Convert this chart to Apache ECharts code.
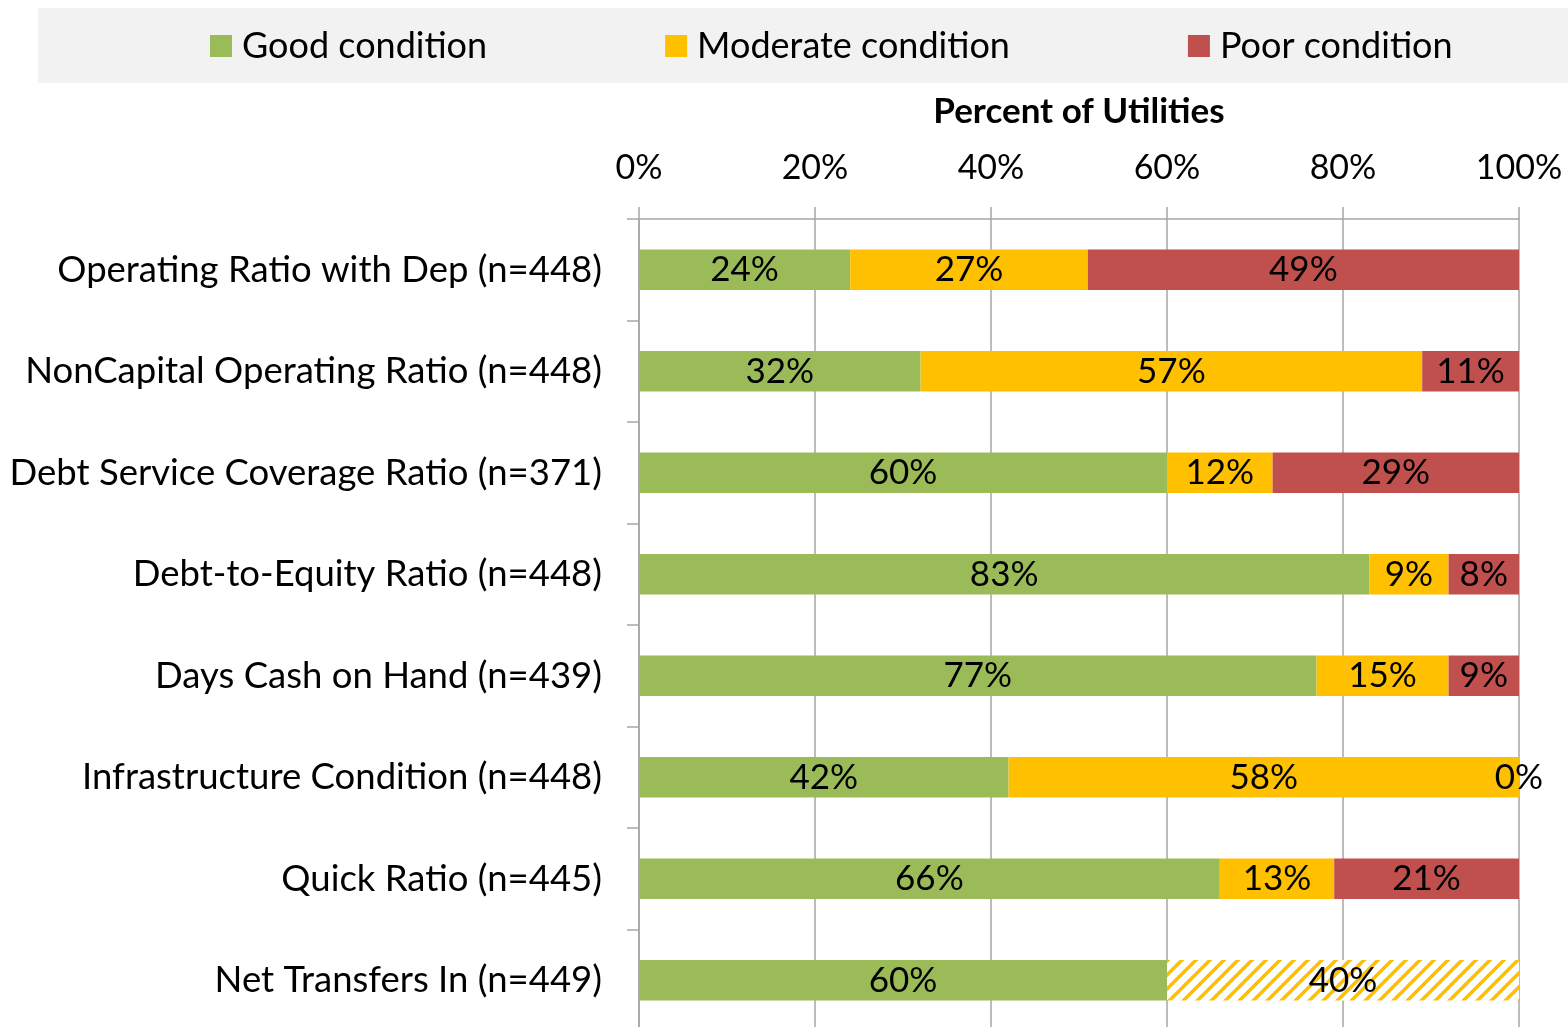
<!DOCTYPE html>
<html>
<head>
<meta charset="utf-8">
<script src="https://cdn.jsdelivr.net/npm/echarts@6/dist/echarts.min.js"></script>
<style>
  html, body { margin: 0; padding: 0; background: #fff; }
  #chart { width: 1568px; height: 1027px; }
</style>
</head>
<body>
<div id="chart"></div>
<script>
// Financial indicator categories (top to bottom)
const categories = [
  'Operating Ratio with Dep (n=448)',
  'NonCapital Operating Ratio (n=448)',
  'Debt Service Coverage Ratio (n=371)',
  'Debt-to-Equity Ratio (n=448)',
  'Days Cash on Hand (n=439)',
  'Infrastructure Condition (n=448)',
  'Quick Ratio (n=445)',
  'Net Transfers In (n=449)'
];
// Percent of utilities in each condition
const goodValues = [24, 32, 60, 83, 77, 42, 66, 60];
const moderateValues = [27, 57, 12, 9, 15, 58, 13, 40];
const poorValues = [49, 11, 29, 8, 9, 0, 21, null];
const axisTicks = [0, 20, 40, 60, 80, 100];

const FONT = 'Lato';
const GREEN = '#9BBB59', YELLOW = '#FFC000', RED = '#C0504D';
const GRID_LINE = '#a6a6a6';

// Diagonal stripe pattern for the Net Transfers In moderate segment
function stripePattern() {
  const p = 14;
  const c = document.createElement('canvas');
  c.width = p; c.height = p;
  const g = c.getContext('2d');
  g.fillStyle = '#fff';
  g.fillRect(0, 0, p, p);
  g.strokeStyle = YELLOW;
  g.lineWidth = 3.6;
  g.beginPath();
  g.moveTo(-2, p + 2); g.lineTo(p + 2, -2);
  g.moveTo(-2, 2); g.lineTo(2, -2);
  g.moveTo(p - 2, p + 2); g.lineTo(p + 2, p - 2);
  g.stroke();
  return c;
}

const moderateData = moderateValues.map((v, i) =>
  i === categories.length - 1
    ? { value: v, itemStyle: { color: { image: stripePattern(), repeat: 'repeat' } } }
    : v
);

const labelStyle = {
  show: true,
  position: 'inside',
  formatter: p => p.value + '%',
  color: '#000',
  fontFamily: FONT,
  fontSize: 35
};

const chart = echarts.init(document.getElementById('chart'));
chart.setOption({
  animation: false,
  textStyle: { fontFamily: FONT },
  graphic: [{
    type: 'rect',
    shape: { x: 38, y: 8, width: 1530, height: 75 },
    style: { fill: '#f2f2f2' },
    z: -10
  }],
  legend: {
    left: 210,
    top: 28,
    padding: 0,
    icon: 'rect',
    itemWidth: 22,
    itemHeight: 22,
    itemGap: 178,
    textStyle: { fontFamily: FONT, fontSize: 36, color: '#000', padding: [0, 0, 0, 5] },
    data: ['Good condition', 'Moderate condition', 'Poor condition']
  },
  grid: { left: 639, right: 49, top: 219, height: 812, containLabel: false, outerBoundsMode: 'none' },
  xAxis: {
    type: 'value',
    position: 'top',
    min: axisTicks[0],
    max: axisTicks[axisTicks.length - 1],
    interval: axisTicks[1] - axisTicks[0],
    name: 'Percent of Utilities',
    nameLocation: 'middle',
    nameGap: 90,
    nameTextStyle: { fontFamily: FONT, fontSize: 35, fontWeight: 'bold', color: '#000' },
    axisLine: { show: true, lineStyle: { color: GRID_LINE, width: 1.5 } },
    axisTick: { show: true, length: 12, lineStyle: { color: GRID_LINE, width: 1.5 } },
    axisLabel: { formatter: '{value}%', fontFamily: FONT, fontSize: 34, color: '#000', margin: 34 },
    splitLine: { show: true, lineStyle: { color: GRID_LINE, width: 1.5 } }
  },
  yAxis: {
    type: 'category',
    inverse: true,
    data: categories,
    axisLine: { show: true, lineStyle: { color: GRID_LINE, width: 1.5 } },
    axisTick: { show: true, length: 12, lineStyle: { color: GRID_LINE, width: 1.5 } },
    axisLabel: { fontFamily: FONT, fontSize: 36.5, color: '#000', margin: 37 }
  },
  series: [
    { name: 'Good condition', type: 'bar', stack: 'all', barWidth: '40%',
      itemStyle: { color: GREEN }, label: labelStyle, data: goodValues },
    { name: 'Moderate condition', type: 'bar', stack: 'all', barWidth: '40%',
      itemStyle: { color: YELLOW }, label: labelStyle, data: moderateData },
    { name: 'Poor condition', type: 'bar', stack: 'all', barWidth: '40%',
      itemStyle: { color: RED }, label: labelStyle, data: poorValues }
  ]
});
</script>
</body>
</html>
